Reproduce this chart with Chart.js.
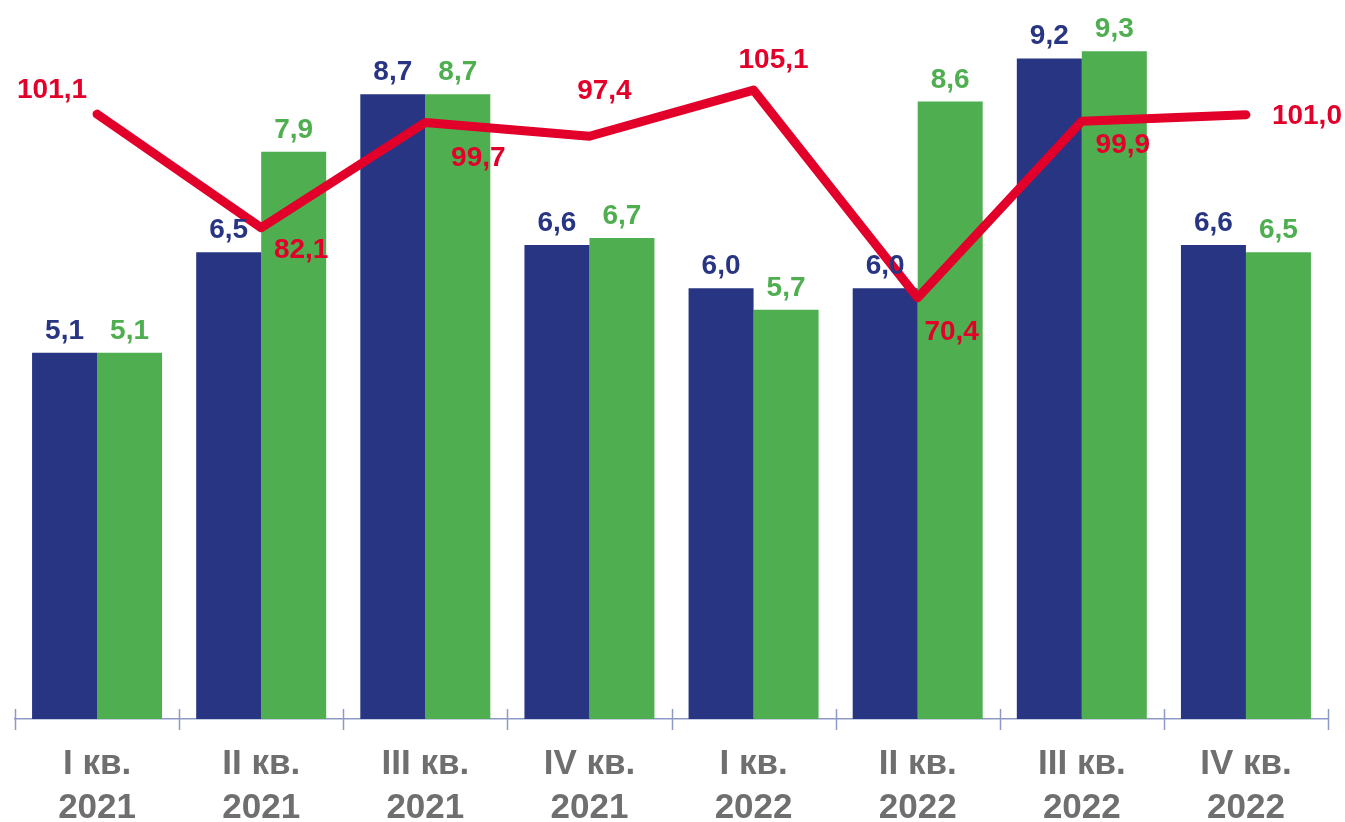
<!DOCTYPE html>
<html>
<head>
<meta charset="utf-8">
<script src="https://cdn.jsdelivr.net/npm/chart.js@4.4.0/dist/chart.umd.min.js"></script>
<style>
  html, body { margin: 0; padding: 0; background: #fff; }
  #wrap { width: 1345px; height: 822px; position: relative; }
</style>
</head>
<body>
<div id="wrap"><canvas id="myChart"></canvas></div>
<script>
const quarters = [
    ['I кв.', '2021'], ['II кв.', '2021'], ['III кв.', '2021'], ['IV кв.', '2021'],
    ['I кв.', '2022'], ['II кв.', '2022'], ['III кв.', '2022'], ['IV кв.', '2022'],
];
const blueValues = [5.1, 6.5, 8.7, 6.6, 6.0, 6.0, 9.2, 6.6];
const greenValues = [5.1, 7.9, 8.7, 6.7, 5.7, 8.6, 9.3, 6.5];
const redValues = [101.1, 82.1, 99.7, 97.4, 105.1, 70.4, 99.9, 101.0];

const BLUE = '#283583';
const GREEN = '#4eae50';
const RED = '#e2002a';
const GREY = '#6f6f6f';
const AXIS = '#8e9ac6';
const FONT = '"Liberation Sans", Arial, sans-serif';

// where each red label sits relative to its point (dx, dy)
const redLabelShift = [[-45, -24], [40, 23], [53, 36], [15, -45], [20, -30], [34, 35], [41, 24], [61, 2]];

const fmt = v => v.toFixed(1).replace('.', ',');

const labelsPlugin = {
    id: 'labels',
    afterDatasetsDraw(chart) {
        const ctx = chart.ctx;
        ctx.save();
        ctx.font = 'bold 28px ' + FONT;
        ctx.textAlign = 'center';
        [0, 1].forEach(di => {
            const meta = chart.getDatasetMeta(di);
            ctx.fillStyle = chart.data.datasets[di].backgroundColor;
            ctx.textBaseline = 'alphabetic';
            meta.data.forEach((bar, i) => {
                ctx.fillText(fmt(chart.data.datasets[di].data[i]), bar.x, bar.y - 14);
            });
        });
        const lm = chart.getDatasetMeta(2);
        ctx.fillStyle = RED;
        ctx.textBaseline = 'middle';
        lm.data.forEach((pt, i) => {
            ctx.fillText(fmt(redValues[i]), pt.x + redLabelShift[i][0], pt.y + redLabelShift[i][1]);
        });
        ctx.restore();
    },
    afterDraw(chart) {
        const x = chart.scales.x;
        const ctx = chart.ctx;
        const y = chart.chartArea.bottom;
        const step = (x.right - x.left) / quarters.length;
        ctx.save();
        ctx.strokeStyle = AXIS;
        ctx.lineWidth = 1.5;
        for (let i = 0; i <= quarters.length; i++) {
            const px = Math.round(x.left + i * step) + 0.5;
            ctx.beginPath();
            ctx.moveTo(px, y - 10);
            ctx.lineTo(px, y + 11);
            ctx.stroke();
        }
        ctx.restore();
    }
};

const ctx = document.getElementById('myChart');
new Chart(ctx, {
    type: 'bar',
    data: {
        labels: quarters,
        datasets: [
            { data: blueValues, backgroundColor: BLUE, yAxisID: 'y', order: 2,
              categoryPercentage: 0.792, barPercentage: 1.0 },
            { data: greenValues, backgroundColor: GREEN, yAxisID: 'y', order: 2,
              categoryPercentage: 0.792, barPercentage: 1.0 },
            { type: 'line', data: redValues, borderColor: RED, backgroundColor: RED,
              borderWidth: 9, borderCapStyle: 'round', borderJoinStyle: 'round',
              pointRadius: 0, tension: 0, yAxisID: 'y1', order: 0 },
        ]
    },
    options: {
        responsive: true,
        maintainAspectRatio: false,
        animation: false,
        layout: { padding: { left: 15, right: 17, top: 1, bottom: 0 } },
        scales: {
            x: {
                grid: { display: false, drawTicks: false },
                border: { display: true, color: AXIS, width: 1.5 },
                ticks: {
                    color: GREY,
                    font: { family: FONT, size: 35, weight: 'bold', lineHeight: 1.24 },
                    padding: 24,
                    maxRotation: 0,
                    autoSkip: false
                },
                afterFit: scale => { scale.height = 103; }
            },
            y: { display: false, min: 0, max: 10 },
            y1: { display: false, min: 0, max: 120 }
        },
        plugins: {
            legend: { display: false },
            tooltip: { enabled: false }
        }
    },
    plugins: [labelsPlugin]
});
</script>
</body>
</html>
